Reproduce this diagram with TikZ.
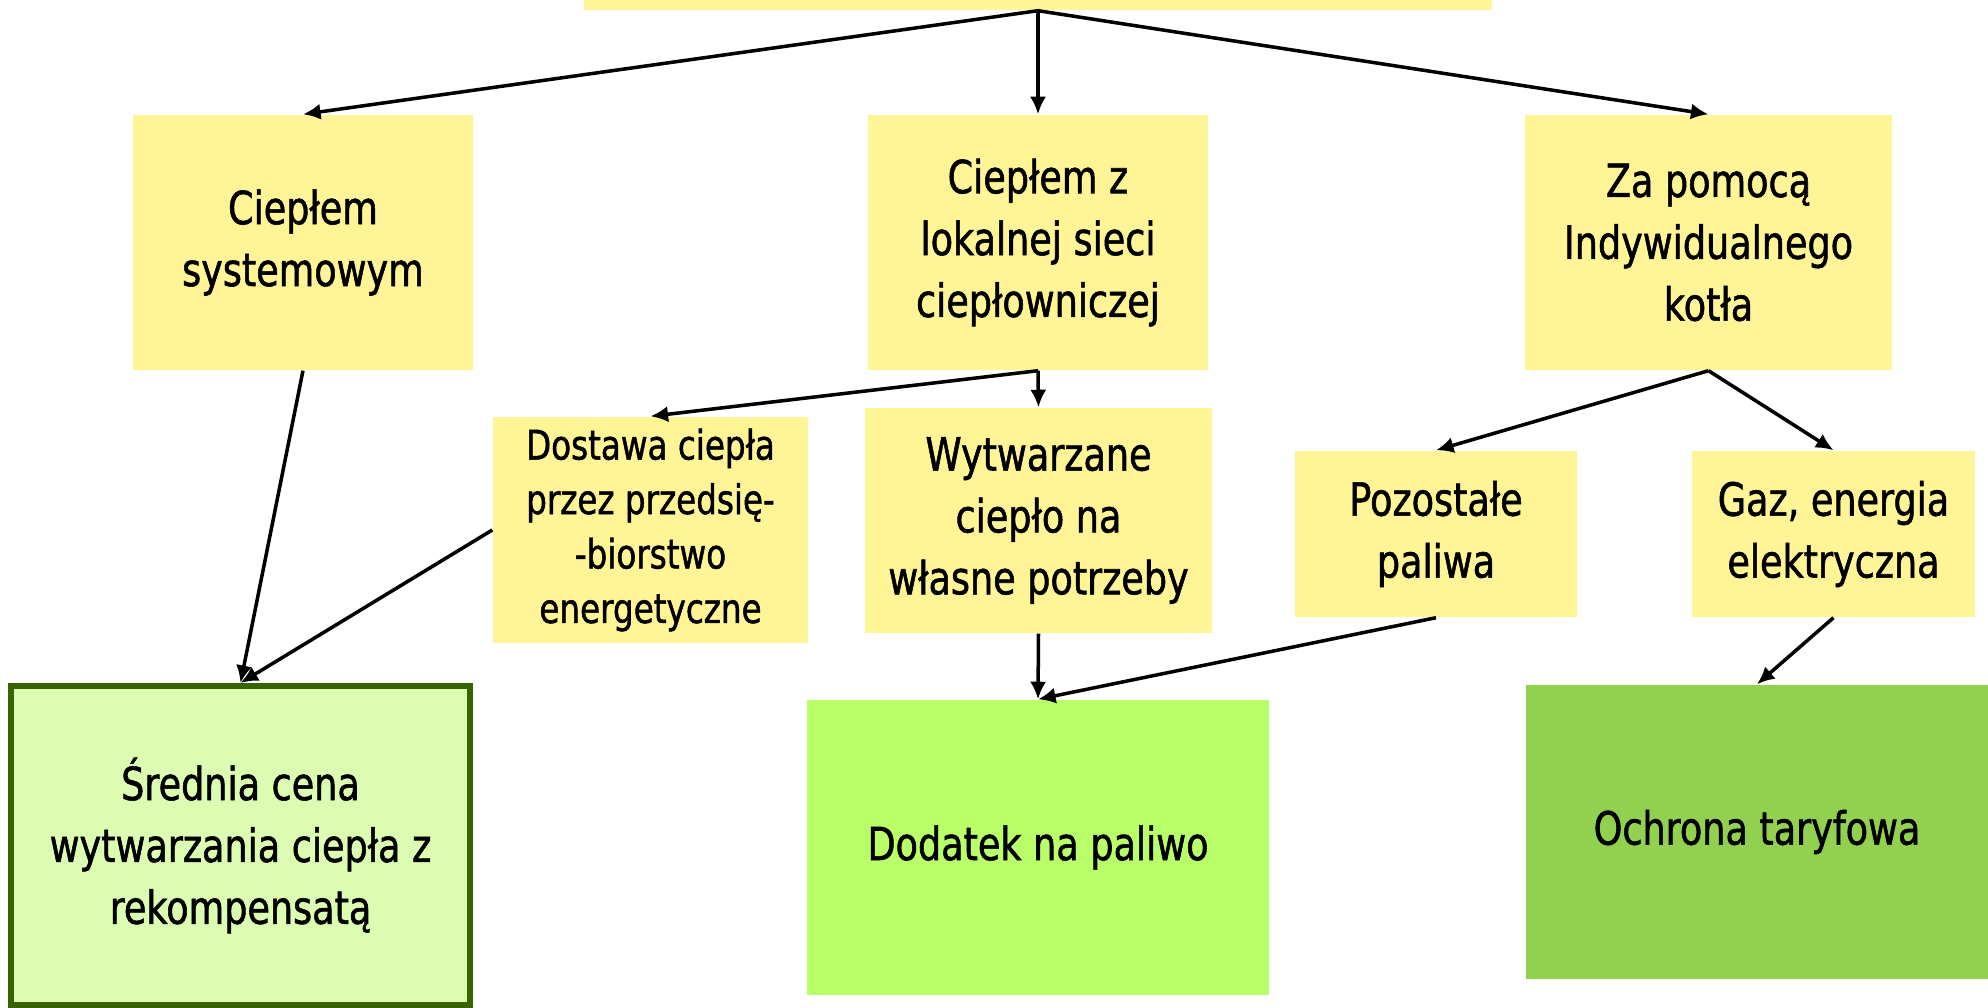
\documentclass[tikz,border=0pt]{standalone}
\usepackage{fontspec}
\setmainfont[FakeStretch=0.8, FakeBold=1.2]{DejaVu Sans}
\usepackage{tikz}
\usetikzlibrary{arrows.meta}

\definecolor{boxyellow}{HTML}{FFF597}
\definecolor{palegreen}{HTML}{DBFCB1}
\definecolor{darkgreen}{HTML}{386400}
\definecolor{limegreen}{HTML}{B9FF69}
\definecolor{midgreen}{HTML}{92D050}

\begin{document}
\begin{tikzpicture}[
    yellowbox/.style={fill=boxyellow, align=center, inner sep=0pt,
        font=\fontsize{13pt}{17.6pt}\selectfont},
    smallbox/.style={yellowbox, font=\fontsize{11.6pt}{15.5pt}\selectfont},
    greenbox/.style={align=center, inner sep=0pt,
        font=\fontsize{13pt}{17.6pt}\selectfont},
    link/.style={line width=1pt, -{Latex[length=5pt,width=4.6pt]}}
]
                \useasboundingbox (0,0) rectangle (19.88,-10.08);

                % Top (cut off)
                \node[yellowbox, minimum width=9.08cm, minimum height=1cm] (top) at (10.38, 0.40) {};

                % First level
                \node[yellowbox, minimum width=3.40cm, minimum height=2.55cm] (sys) at (3.03, -2.425) {Ciepłem\\systemowym};
                \node[yellowbox, minimum width=3.40cm, minimum height=2.55cm] (local) at (10.38, -2.425) {Ciepłem z\\lokalnej sieci\\ciepłowniczej};
                \node[yellowbox, minimum width=3.67cm, minimum height=2.55cm] (kettle) at (17.085, -2.425) {Za pomocą\\Indywidualnego\\kotła};

                % Second level
                \node[smallbox, minimum width=3.15cm, minimum height=2.26cm] (supply) at (6.505, -5.30) {Dostawa ciepła\\przez przedsię-\\-biorstwo\\energetyczne};
                \node[yellowbox, minimum width=3.47cm, minimum height=2.25cm] (own) at (10.385, -5.205) {Wytwarzane\\ciepło na\\własne potrzeby};
                \node[yellowbox, minimum width=2.82cm, minimum height=1.66cm] (fuels) at (14.36, -5.34) {Pozostałe\\paliwa};
                \node[yellowbox, minimum width=2.83cm, minimum height=1.66cm] (gas) at (18.335, -5.34) {Gaz, energia\\elektryczna};

                % Results
                \node[greenbox, fill=palegreen, draw=darkgreen, line width=1.7pt, minimum width=4.59cm, minimum height=3.19cm] (price) at (2.405, -8.455) {Średnia cena\\wytwarzania ciepła z\\rekompensatą};
                \node[greenbox, fill=limegreen, minimum width=4.62cm, minimum height=2.95cm] (bonus) at (10.38, -8.475) {Dodatek na paliwo};
                \node[greenbox, fill=midgreen, minimum width=4.62cm, minimum height=2.94cm] (tariff) at (17.57, -8.32) {Ochrona taryfowa};

                % Arrows
                \draw[link] (top.south) -- (sys.north);
                \draw[link] (top.south) -- (local.north);
                \draw[link] (top.south) -- (kettle.north);
                \draw[link] (sys.south) -- (price.north);
                \draw[link] (supply.west) -- (price.north);
                \draw[link] (local.south) -- (supply.north);
                \draw[link] (local.south) -- (own.north);
                \draw[link] (own.south) -- (bonus.north);
                \draw[link] (fuels.south) -- (bonus.north);
                \draw[link] (kettle.south) -- (fuels.north);
                \draw[link] (kettle.south) -- (gas.north);
                \draw[link] (gas.south) -- (tariff.north);
\end{tikzpicture}
\end{document}
